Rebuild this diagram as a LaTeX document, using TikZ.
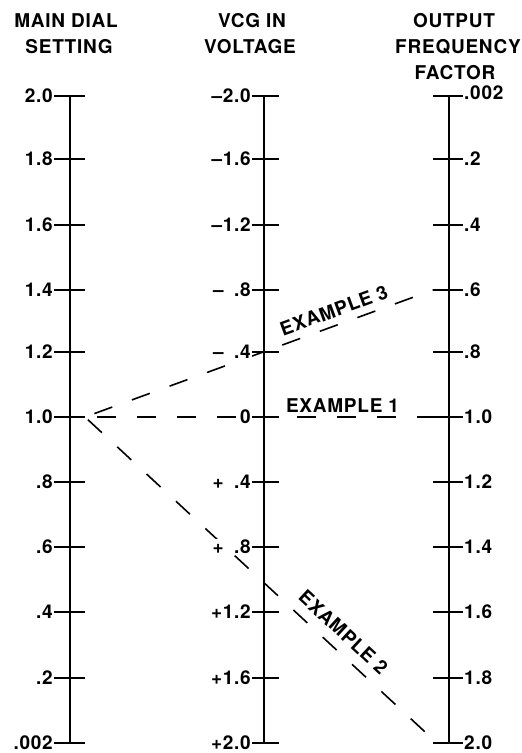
\documentclass[tikz,border=0pt]{standalone}
\usepackage{fontspec}
\setmainfont{TeX Gyre Heros}[LetterSpace=4]
\begin{document}
\begin{tikzpicture}[x=1pt,y=-1pt,
  axisline/.style={line width=2pt},
  tickline/.style={line width=2pt},
  lbl/.style={font=\fontsize{19}{19}\selectfont\bfseries, inner sep=0pt},
  hdr/.style={font=\fontsize{19}{19}\selectfont\bfseries, inner sep=0pt, anchor=base},
  exline/.style={line width=1.6pt, dash pattern=on 19pt off 21pt},
  exlabel/.style={font=\fontsize{19}{19}\selectfont\bfseries, inner sep=0pt, fill=none},
]
\useasboundingbox (0,0) rectangle (522,753);

% headers
\node[hdr] (h1a) at (66,27) {MAIN DIAL};
\node[hdr] (h1b) at (69,53) {SETTING};
\node[hdr] (h2a) at (252,27) {VCG IN};
\node[hdr] (h2b) at (250,53) {VOLTAGE};
\node[hdr] (h3a) at (454,27) {OUTPUT};
\node[hdr] (h3b) at (458,53) {FREQUENCY};
\node[hdr] (h3c) at (455,79) {FACTOR};

% left scale
\foreach \y/\l [count=\i] in {96/2.0,159/1.8,225/1.6,290/1.4,352/1.2,417/1.0,482/.8,547/.6,612/.4,678/.2,743/.002} {
  \coordinate (L\i) at (70,\y);
  \draw[tickline] ([xshift=-16pt]L\i) -- ([xshift=15pt]L\i);
  \node[lbl, anchor=east] (Ll\i) at ([xshift=-17pt]L\i) {\l};
}
\draw[axisline] (L1) -- (L11);

% middle scale
\foreach \y [count=\i] in {96,159,225,290,352,417,482,547,612,678,743} {
  \coordinate (M\i) at (264,\y);
  \draw[tickline] ([xshift=-12pt]M\i) -- ([xshift=15pt]M\i);
}
\draw[axisline] (M1) -- (M11);

% right scale
\foreach \y [count=\i] in {96,159,225,290,352,417,482,547,612,678,743} {
  \coordinate (R\i) at (449,\y);
  \draw[tickline] ([xshift=-16pt]R\i) -- ([xshift=14pt]R\i);
}
\draw[axisline] (R1) -- (R11);

% example lines
\draw[exline, dash phase=28pt] ([xshift=15pt]L6) -- node[exlabel, pos=0.74, above=4pt] (e1) {EXAMPLE 1} ([xshift=-16pt]R6);
\draw[exline, dash phase=30pt] ([xshift=15pt]L6) -- node[exlabel, pos=0.73, sloped, above=7pt] (e3) {EXAMPLE 3} ([xshift=-16pt]R4);
\draw[exline, dash phase=36pt] ([xshift=15pt]L6) -- node[exlabel, pos=0.70, sloped, above=10pt] (e2) {EXAMPLE 2} ([xshift=-12pt]R11);

% middle labels on top (white background)
\foreach \l [count=\i] in {{–2.0},{–1.6},{–1.2},{–\phantom{1}.8},{–\phantom{1}.4},0,{+\phantom{1}.4},{+\phantom{1}.8},{+1.2},{+1.6},{+2.0}} {
  \node[lbl, anchor=east, fill=white, inner sep=1pt] (Ml\i) at ([xshift=-12pt]M\i) {\l};
  \draw[tickline] ([xshift=-12pt]M\i) -- ([xshift=15pt]M\i);
}
% right labels
\node[lbl, anchor=west] (Rl1) at ([xshift=15pt,yshift=3pt]R1) {.002};
\foreach \l [count=\i from 2] in {.2,.4,.6,.8,1.0,1.2,1.4,1.6,1.8,2.0} {
  \node[lbl, anchor=west] (Rl\i) at ([xshift=15pt]R\i) {\l};
}
\end{tikzpicture}
\end{document}
